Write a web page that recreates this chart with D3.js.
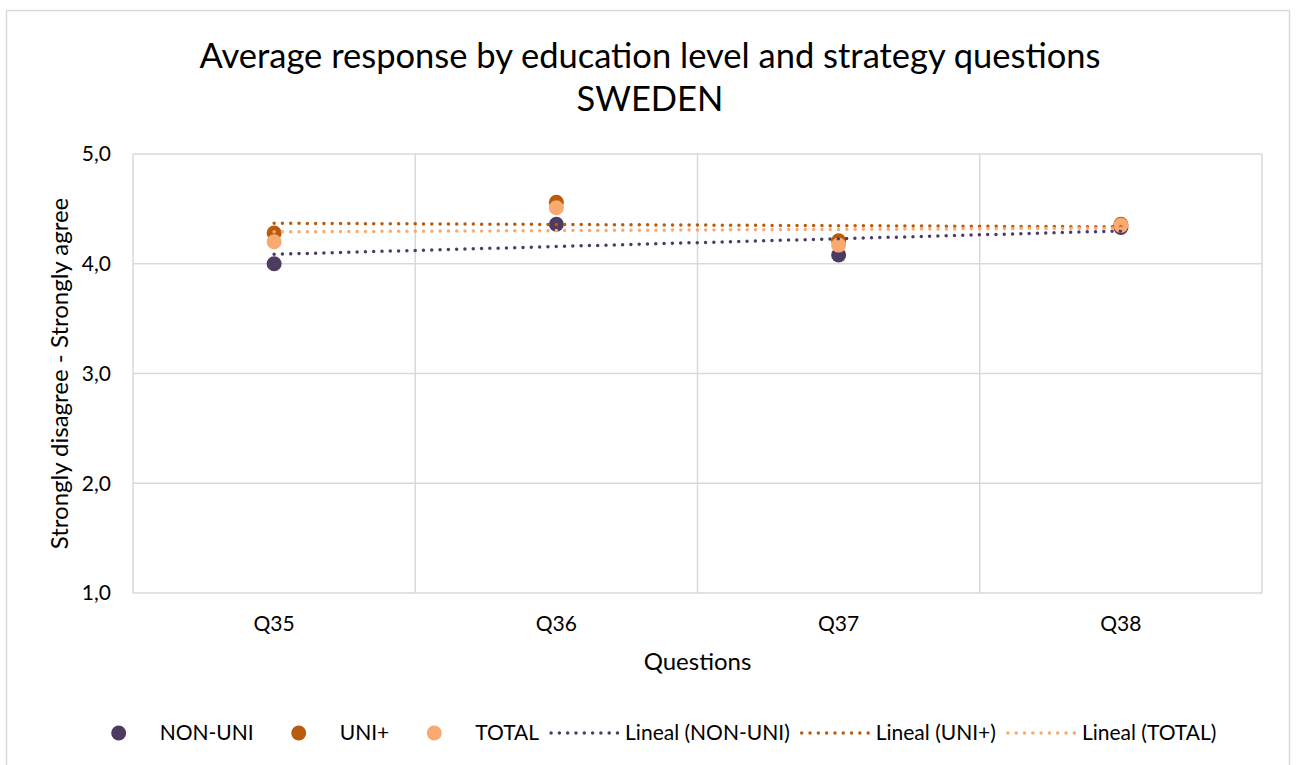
<!DOCTYPE html>
<html>
<head>
<meta charset="utf-8">
<script src="https://cdn.jsdelivr.net/npm/d3@7"></script>
<style>
  body { margin: 0; background: #fff; }
  svg text { font-family: Lato, "Open Sans", sans-serif; fill: #000; }
</style>
</head>
<body>
<div id="chart"></div>
<script>
// values
const questions = ["Q35", "Q36", "Q37", "Q38"]
const nonUni = [4.00, 4.36, 4.08, 4.33]
const uniPlus = [4.28, 4.56, 4.21, 4.36]
const total = [4.20, 4.51, 4.17, 4.35]
const yTicks = [1, 2, 3, 4, 5]

const series = [
  { name: "NON-UNI", values: nonUni, color: "#4e3b62" },
  { name: "UNI+", values: uniPlus, color: "#b95b0c" },
  { name: "TOTAL", values: total, color: "#f9aa70" }
]

let width = 1296,
  height = 765,
  margin = { top: 154, right: 34, bottom: 172, left: 133 }

let svg = d3.select("#chart").append("svg")
  .attr("width", width)
  .attr("height", height)

// chart border
svg.append("rect")
  .attr("x", 6.5).attr("y", 10.5)
  .attr("width", 1283).attr("height", 770)
  .attr("fill", "#fff")
  .attr("stroke", "#d9d9d9")
  .attr("stroke-width", 1.5)

let x = d3.scaleBand()
  .domain(questions)
  .range([margin.left, width - margin.right])

let y = d3.scaleLinear()
  .domain([1, 5])
  .range([height - margin.bottom, margin.top])

let cx = d => x(d) + x.bandwidth() / 2

// grid
svg.append("g").selectAll("line")
  .data(yTicks)
  .enter().append("line")
  .attr("x1", margin.left).attr("x2", width - margin.right)
  .attr("y1", d => y(d)).attr("y2", d => y(d))
  .attr("stroke", "#d9d9d9").attr("stroke-width", 1.5)

svg.append("g").selectAll("line")
  .data(questions.map(q => x(q)).concat([x.range()[1]]))
  .enter().append("line")
  .attr("x1", d => d).attr("x2", d => d)
  .attr("y1", y(5)).attr("y2", y(1))
  .attr("stroke", "#d9d9d9").attr("stroke-width", 1.5)

// axes labels
svg.append("g").selectAll("text")
  .data(yTicks)
  .enter().append("text")
  .attr("x", 111)
  .attr("y", d => y(d))
  .attr("dy", "0.35em")
  .attr("text-anchor", "end")
  .style("font-size", "21px")
  .text(d => d3.format(".1f")(d).replace(".", ","))

svg.append("g").selectAll("text")
  .data(questions)
  .enter().append("text")
  .attr("x", d => cx(d))
  .attr("y", 624)
  .attr("dy", "0.35em")
  .attr("text-anchor", "middle")
  .style("font-size", "21px")
  .text(d => d)

svg.append("text")
  .attr("x", (x.range()[0] + x.range()[1]) / 2)
  .attr("y", 662)
  .attr("dy", "0.35em")
  .attr("text-anchor", "middle")
  .style("font-size", "24px")
  .text("Questions")

svg.append("text")
  .attr("transform", "translate(60," + ((y(1) + y(5)) / 2) + ") rotate(-90)")
  .attr("dy", "0.35em")
  .attr("text-anchor", "middle")
  .style("font-size", "24px")
  .text("Strongly disagree - Strongly agree")

// title
svg.append("text")
  .attr("x", 650).attr("y", 68)
  .attr("text-anchor", "middle")
  .style("font-size", "34.5px")
  .text("Average response by education level and strategy questions")
svg.append("text")
  .attr("x", 650).attr("y", 111)
  .attr("text-anchor", "middle")
  .style("font-size", "34.5px")
  .text("SWEDEN")

// markers
series.forEach(s => {
  svg.append("g").selectAll("circle")
    .data(s.values)
    .enter().append("circle")
    .attr("cx", (d, i) => cx(questions[i]))
    .attr("cy", d => y(d))
    .attr("r", 7.5)
    .attr("fill", s.color)
})

// linear trendlines (least squares on x = 1..n, like Excel)
function trend(values) {
  let xs = values.map((d, i) => i + 1)
  let mx = d3.mean(xs), my = d3.mean(values)
  let slope = d3.sum(xs, (xv, i) => (xv - mx) * (values[i] - my)) / d3.sum(xs, xv => (xv - mx) * (xv - mx))
  let b = my - slope * mx
  return [1, values.length].map(xv => ({ i: xv - 1, v: b + slope * xv }))
}

let line = d3.line()
  .x(d => cx(questions[d.i]))
  .y(d => y(d.v))

series.forEach(s => {
  svg.append("path")
    .attr("d", line(trend(s.values)))
    .attr("fill", "none")
    .attr("stroke", s.color)
    .attr("stroke-width", 3.5)
    .attr("stroke-linecap", "round")
    .attr("stroke-dasharray", "0 8.3")
})

// legend
let legendItems = series.map(s => ({ label: s.name, color: s.color, type: "marker" }))
  .concat(series.map(s => ({ label: "Lineal (" + s.name + ")", color: s.color, type: "line" })))

let legend = svg.append("g")
let lx = 0
legendItems.forEach(item => {
  let g = legend.append("g").attr("transform", "translate(" + lx + ",0)")
  if (item.type === "marker") {
    g.append("circle").attr("cx", 35).attr("cy", 0).attr("r", 7.5).attr("fill", item.color)
  } else {
    g.append("line")
      .attr("x1", 2).attr("x2", 69).attr("y1", 0).attr("y2", 0)
      .attr("stroke", item.color).attr("stroke-width", 3.5)
      .attr("stroke-linecap", "round").attr("stroke-dasharray", "0 8.3")
  }
  let t = g.append("text")
    .attr("x", 76).attr("y", 0).attr("dy", "0.35em")
    .style("font-size", "21px")
    .text(item.label)
  lx += 76 + t.node().getComputedTextLength() + 10
})
legend.attr("transform", "translate(" + (650 - (lx - 10) / 2) + ",733)")
</script>
</body>
</html>
